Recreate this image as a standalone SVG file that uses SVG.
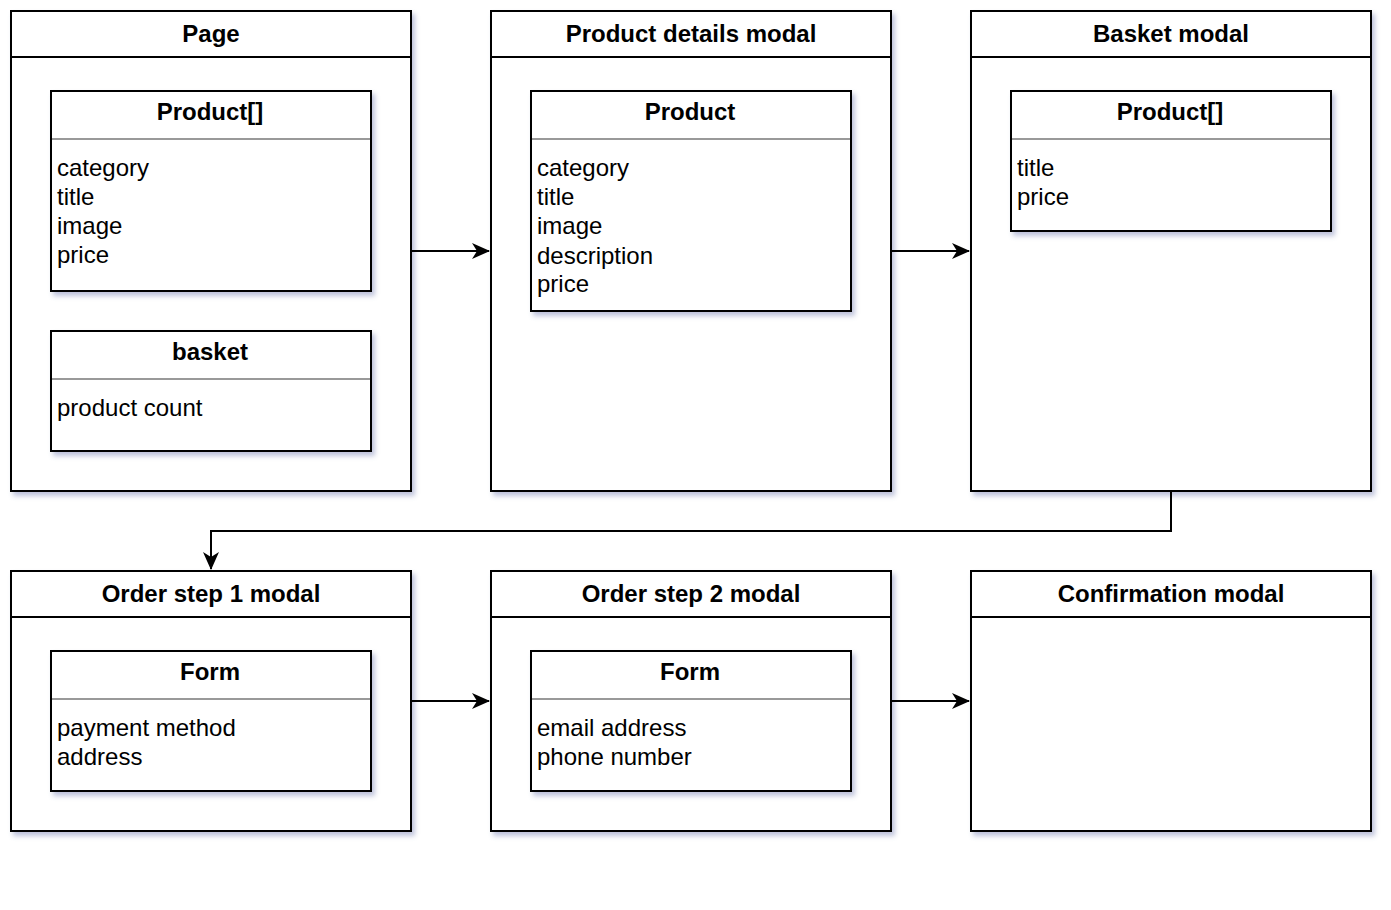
<svg xmlns="http://www.w3.org/2000/svg" width="1391" height="910" viewBox="0 0 1391 910">
<style>
.box{fill:#fff;stroke:#000;stroke-width:2}
.sep{stroke:#999;stroke-width:2}
.hdr{font-family:"Liberation Sans",Arial,sans-serif;font-size:24px;font-weight:bold;text-anchor:middle;fill:#000}
.it{font-family:"Liberation Sans",Arial,sans-serif;font-size:24px;fill:#000}
.con{fill:none;stroke:#000;stroke-width:2}
</style>
<defs>
<filter id="sh" x="-10%" y="-10%" width="130%" height="130%">
<feDropShadow dx="3" dy="4" stdDeviation="2.5" flood-color="#6f78b0" flood-opacity="0.45"/>
</filter>
<marker id="arr" viewBox="0 0 18 16" refX="17" refY="8" markerWidth="18" markerHeight="16" markerUnits="userSpaceOnUse" orient="auto">
<path d="M0,0 L18,8 L0,16 L5,8 z" fill="#000"/>
</marker>
</defs>
<rect width="1391" height="910" fill="#fff"/>

<g id="page">
<rect class="box" x="11" y="11" width="400" height="480" filter="url(#sh)"/>
<line x1="11" y1="57" x2="411" y2="57" stroke="#000" stroke-width="2"/>
<text class="hdr" x="211" y="42">Page</text>
</g>
<g id="page-products">
<rect class="box" x="51" y="91" width="320" height="200" filter="url(#sh)"/>
<line class="sep" x1="52" y1="139" x2="370" y2="139"/>
<text class="hdr" x="210" y="120">Product[]</text>
<text class="it" x="57" y="176">category</text>
<text class="it" x="57" y="205">title</text>
<text class="it" x="57" y="234">image</text>
<text class="it" x="57" y="263">price</text>
</g>
<g id="page-basket">
<rect class="box" x="51" y="331" width="320" height="120" filter="url(#sh)"/>
<line class="sep" x1="52" y1="379" x2="370" y2="379"/>
<text class="hdr" x="210" y="360">basket</text>
<text class="it" x="57" y="416">product count</text>
</g>

<g id="product-details-modal">
<rect class="box" x="491" y="11" width="400" height="480" filter="url(#sh)"/>
<line x1="491" y1="57" x2="891" y2="57" stroke="#000" stroke-width="2"/>
<text class="hdr" x="691" y="42">Product details modal</text>
</g>
<g id="pdm-product">
<rect class="box" x="531" y="91" width="320" height="220" filter="url(#sh)"/>
<line class="sep" x1="532" y1="139" x2="850" y2="139"/>
<text class="hdr" x="690" y="120">Product</text>
<text class="it" x="537" y="176">category</text>
<text class="it" x="537" y="205">title</text>
<text class="it" x="537" y="234">image</text>
<text class="it" x="537" y="264">description</text>
<text class="it" x="537" y="292">price</text>
</g>

<g id="basket-modal">
<rect class="box" x="971" y="11" width="400" height="480" filter="url(#sh)"/>
<line x1="971" y1="57" x2="1371" y2="57" stroke="#000" stroke-width="2"/>
<text class="hdr" x="1171" y="42">Basket modal</text>
</g>
<g id="bm-products">
<rect class="box" x="1011" y="91" width="320" height="140" filter="url(#sh)"/>
<line class="sep" x1="1012" y1="139" x2="1330" y2="139"/>
<text class="hdr" x="1170" y="120">Product[]</text>
<text class="it" x="1017" y="176">title</text>
<text class="it" x="1017" y="205">price</text>
</g>

<g id="order-step-1-modal">
<rect class="box" x="11" y="571" width="400" height="260" filter="url(#sh)"/>
<line x1="11" y1="617" x2="411" y2="617" stroke="#000" stroke-width="2"/>
<text class="hdr" x="211" y="602">Order step 1 modal</text>
</g>
<g id="os1-form">
<rect class="box" x="51" y="651" width="320" height="140" filter="url(#sh)"/>
<line class="sep" x1="52" y1="699" x2="370" y2="699"/>
<text class="hdr" x="210" y="680">Form</text>
<text class="it" x="57" y="736">payment method</text>
<text class="it" x="57" y="765">address</text>
</g>

<g id="order-step-2-modal">
<rect class="box" x="491" y="571" width="400" height="260" filter="url(#sh)"/>
<line x1="491" y1="617" x2="891" y2="617" stroke="#000" stroke-width="2"/>
<text class="hdr" x="691" y="602">Order step 2 modal</text>
</g>
<g id="os2-form">
<rect class="box" x="531" y="651" width="320" height="140" filter="url(#sh)"/>
<line class="sep" x1="532" y1="699" x2="850" y2="699"/>
<text class="hdr" x="690" y="680">Form</text>
<text class="it" x="537" y="736">email address</text>
<text class="it" x="537" y="765">phone number</text>
</g>

<g id="confirmation-modal">
<rect class="box" x="971" y="571" width="400" height="260" filter="url(#sh)"/>
<line x1="971" y1="617" x2="1371" y2="617" stroke="#000" stroke-width="2"/>
<text class="hdr" x="1171" y="602">Confirmation modal</text>
</g>

<g id="connectors">
<path class="con" d="M411,251 L489,251" marker-end="url(#arr)"/>
<path class="con" d="M891,251 L969,251" marker-end="url(#arr)"/>
<path class="con" d="M1171,491 L1171,531 L211,531 L211,569" marker-end="url(#arr)"/>
<path class="con" d="M411,701 L489,701" marker-end="url(#arr)"/>
<path class="con" d="M891,701 L969,701" marker-end="url(#arr)"/>
</g>
</svg>
